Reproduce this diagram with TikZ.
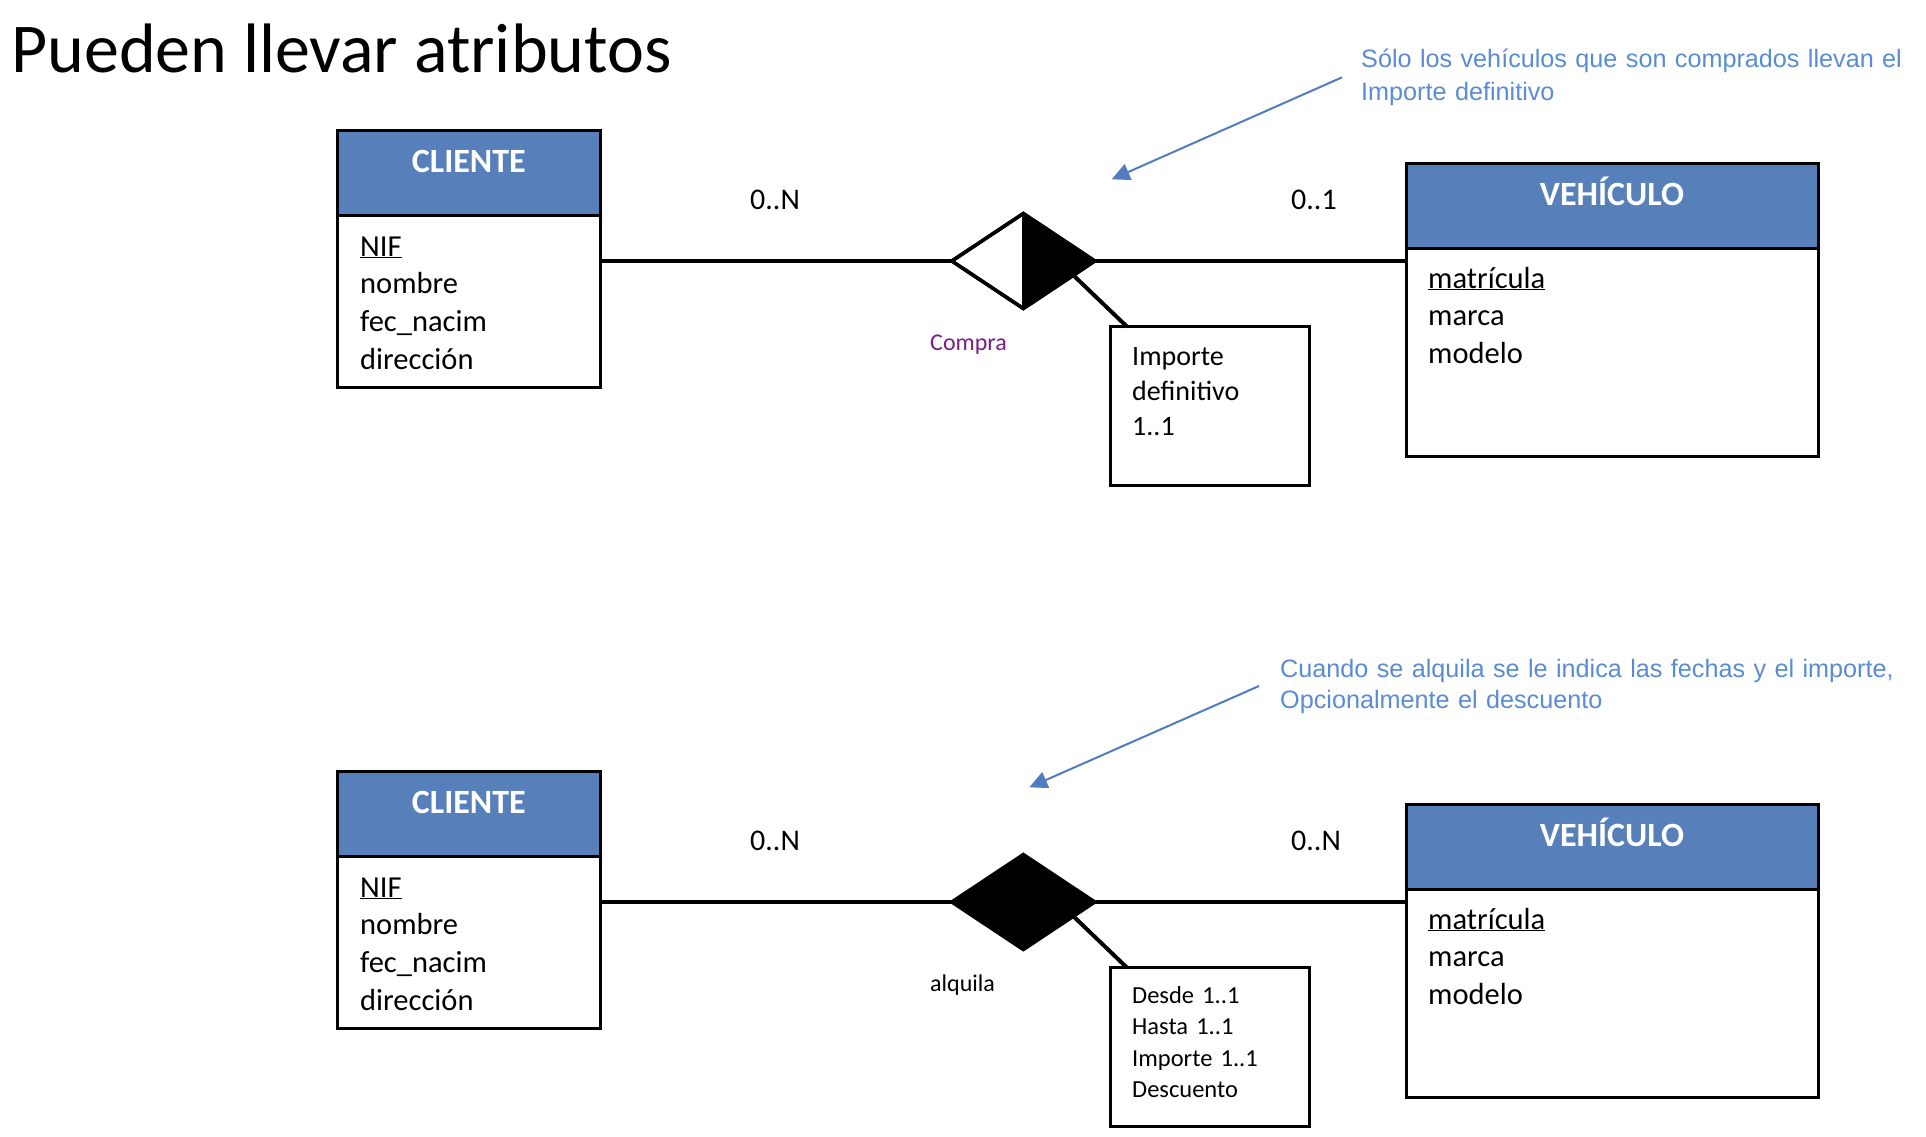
\documentclass[tikz,border=0pt]{standalone}
\usepackage{fontspec}
\setmainfont{Carlito}
\newfontfamily\notefont{Liberation Sans}
\usetikzlibrary{shapes.geometric,arrows.meta,calc}
\definecolor{hdrblue}{RGB}{87,128,186}
\definecolor{noteblue}{RGB}{90,140,212}
\definecolor{arrowblue}{RGB}{80,125,190}
\definecolor{relpurple}{RGB}{120,30,130}
\tikzset{
  hdr/.style={draw=black, line width=3pt, fill=hdrblue, anchor=north west, inner sep=0pt, outer sep=0pt,
    text=white, font=\fontsize{34}{40}\selectfont\bfseries, text height=23pt, text depth=24pt,
    minimum height=85pt},
  body/.style={draw=black, line width=3pt, fill=white, anchor=north west, inner sep=0pt, outer sep=0pt},
  attr/.style={anchor=base west, inner sep=0pt, align=left, text width=230pt,
    font=\fontsize{30.5}{37.7}\selectfont},
  relshape/.style={diamond, draw=black, line width=3.5pt, inner sep=0pt, outer sep=0pt,
    minimum width=143pt, minimum height=95pt},
  abox/.style={draw=black, line width=3pt, fill=white, anchor=north west, inner sep=0pt, outer sep=0pt,
    minimum width=199pt, minimum height=158.3pt},
  conn/.style={draw=black, line width=4pt},
  card/.style={anchor=base west, inner sep=0pt, font=\fontsize{30}{36}\selectfont},
  rellabel/.style={anchor=base west, inner sep=0pt, font=\fontsize{24}{29}\selectfont},
  note/.style={anchor=base west, inner sep=0pt, align=left, text=noteblue,
    font=\notefont\fontsize{25.2}{33}\selectfont},
  notearrow/.style={draw=arrowblue, line width=2pt, -{Triangle[length=18pt,width=17pt]}}
}
\begin{document}
\begin{tikzpicture}[x=1pt,y=-1pt]
\useasboundingbox (0,0) rectangle (1926,1136);
\fill[white] (0,0) rectangle (1926,1136);

% title
\node[anchor=base west, inner sep=0pt, font=\fontsize{70}{80}\selectfont] (title) at (11,72) {Pueden llevar atributos};

% ===== Upper diagram =====
\node[hdr, minimum width=263.7pt] (c1h) at (337,130) {CLIENTE};
\node[body, minimum width=263.7pt, minimum height=172.3pt] (c1b) at (c1h.south west) {};
\node[attr] (c1t) at ($(c1b.north west)+(23,41)$) {\underline{NIF}\\nombre\\fec\_nacim\\dirección};

\node[hdr, minimum width=412pt] (v1h) at (1406,163.3) {VEHÍCULO};
\node[body, minimum width=412pt, minimum height=207.7pt] (v1b) at (v1h.south west) {};
\node[attr] (v1t) at ($(v1b.north west)+(22,39.7)$) {\underline{matrícula}\\marca\\modelo};

\node[relshape, fill=white] (d1) at (1023.3,261) {};
\fill[black] (d1.north) -- (d1.east) -- (d1.south) -- cycle;
\draw[black, line width=3.5pt] (d1.north) -- (d1.east) -- (d1.south) -- (d1.west) -- cycle;
\draw[black, line width=2pt] (d1.north) -- (d1.south);

\draw[conn] (d1.west -| c1b.east) -- (d1.west);
\draw[conn] (d1.east) -- (d1.east -| v1b.west);

\node[abox] (a1) at (1110,326.7) {};
\node[anchor=base west, inner sep=0pt, align=left, text width=170pt, font=\fontsize{28}{35}\selectfont] (a1t) at ($(a1.north west)+(22,38.3)$) {Importe\\definitivo\\1..1};
\draw[conn] ($(d1.east)!0.3!(d1.south)$) -- ($(a1.north west)+(17,0)$);

\node[rellabel, text=relpurple] (l1) at (930,350) {Compra};
\node[card] (k1) at (750,209) {0..N};
\node[card] (k2) at (1291,209) {0..1};

\node[note, text width=565pt] (n1) at (1361,67.5) {Sólo los vehículos que son comprados llevan el\\Importe definitivo};
\coordinate (t1) at (1111.7,179.3);
\draw[notearrow] ([xshift=-19pt]n1.west) -- (t1);

% ===== Lower diagram =====
\node[hdr, minimum width=263.7pt] (c2h) at (337,771) {CLIENTE};
\node[body, minimum width=263.7pt, minimum height=172.3pt] (c2b) at (c2h.south west) {};
\node[attr] (c2t) at ($(c2b.north west)+(23,41)$) {\underline{NIF}\\nombre\\fec\_nacim\\dirección};

\node[hdr, minimum width=412pt] (v2h) at (1406,804.3) {VEHÍCULO};
\node[body, minimum width=412pt, minimum height=207.7pt] (v2b) at (v2h.south west) {};
\node[attr] (v2t) at ($(v2b.north west)+(22,39.7)$) {\underline{matrícula}\\marca\\modelo};

\node[relshape, fill=black] (d2) at (1023.3,902) {};

\draw[conn] (d2.west -| c2b.east) -- (d2.west);
\draw[conn] (d2.east) -- (d2.east -| v2b.west);

\node[abox] (a2) at (1110,967.7) {};
\node[anchor=base west, inner sep=0pt, align=left, text width=170pt, font=\fontsize{24.5}{31.5}\selectfont] (a2t) at ($(a2.north west)+(22,35.3)$) {Desde 1..1\\Hasta 1..1\\Importe 1..1\\Descuento};
\draw[conn] ($(d2.east)!0.3!(d2.south)$) -- ($(a2.north west)+(17,0)$);

\node[rellabel] (l2) at (930,991.7) {alquila};
\node[card] (k3) at (750,850) {0..N};
\node[card] (k4) at (1291,850) {0..N};

\node[note, text width=640pt, font=\notefont\fontsize{25.2}{31}\selectfont] (n2) at (1280,677) {Cuando se alquila se le indica las fechas y el importe,\\Opcionalmente el descuento};
\coordinate (t2) at (1029.3,787.3);
\draw[notearrow] ([xshift=-21pt]n2.west) -- (t2);
\end{tikzpicture}
\end{document}
